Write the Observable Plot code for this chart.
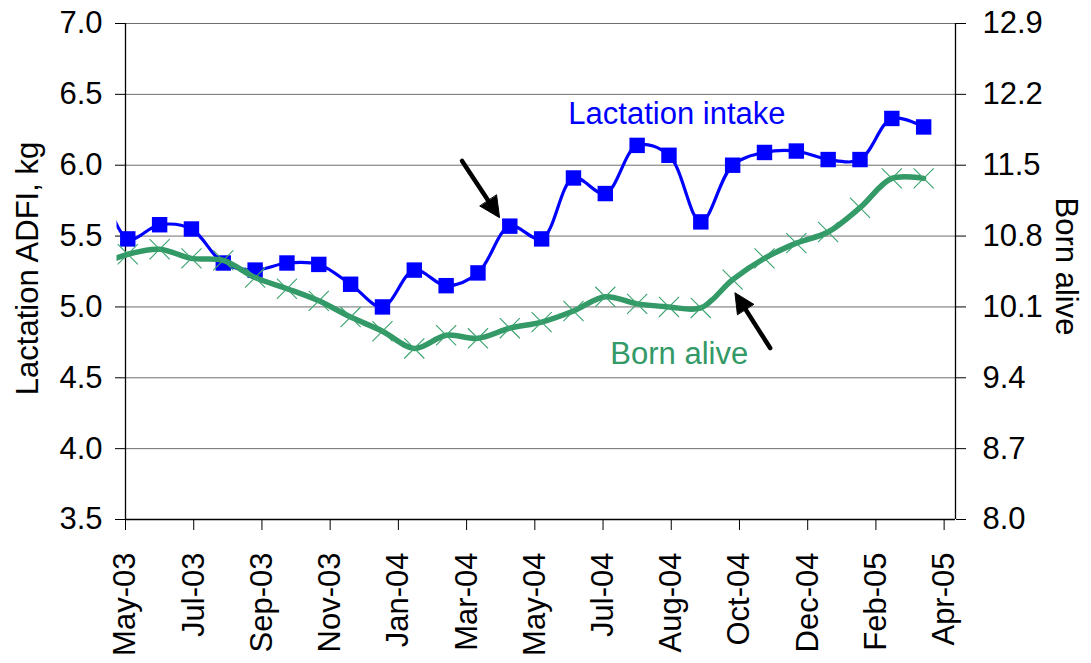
<!DOCTYPE html>
<html><head><meta charset="utf-8">
<script src="https://cdn.jsdelivr.net/npm/d3@7"></script>
<script src="https://cdn.jsdelivr.net/npm/@observablehq/plot@0.6"></script>
<style>body{margin:0;background:#fff}</style>
</head><body><div id="chart"></div>
<script>
// ---- data ----
const sampleDates = ["2003-05-10","2003-06-07","2003-07-05","2003-08-02","2003-08-30","2003-09-27","2003-10-25","2003-11-22","2003-12-20","2004-01-17","2004-02-14","2004-03-13","2004-04-10","2004-05-08","2004-06-05","2004-07-03","2004-07-31","2004-08-28","2004-09-25","2004-10-23","2004-11-20","2004-12-18","2005-01-15","2005-02-12","2005-03-12","2005-04-09"];
const lactationIntake = [5.48,5.58,5.55,5.31,5.26,5.31,5.30,5.16,5.00,5.26,5.15,5.24,5.57,5.48,5.91,5.80,6.14,6.07,5.60,6.00,6.09,6.10,6.04,6.04,6.33,6.27];
const bornAlive = [10.62,10.67,10.58,10.56,10.39,10.28,10.16,10.00,9.86,9.69,9.82,9.79,9.89,9.95,10.06,10.20,10.13,10.10,10.09,10.37,10.58,10.73,10.84,11.08,11.37,11.37];
// period just before the axis start (only its line segment shows)
const priorDate = "2003-04-12";
const priorIntake = 6.0;
const priorBornAlive = 10.5;
const xDomain = ["2003-05-08","2005-05-07"];
const xTicks = ["2003-05-08","2003-07-07","2003-09-05","2003-11-04","2004-01-03","2004-03-03","2004-05-02","2004-07-01","2004-08-30","2004-10-29","2004-12-28","2005-02-26","2005-04-27"];
const leftTicks = [3.5,4.0,4.5,5.0,5.5,6.0,6.5,7.0];
const rightMin = 8.0, rightStep = 0.7; // right axis: 8.0 .. 12.9
const arrows = [
  {x1:"2004-02-28", y1:6.03, x2:"2004-04-01", y2:5.63},
  {x1:"2004-11-25", y1:4.71, x2:"2004-10-25", y2:5.10}
];
const seriesLabels = [
  {text:"Lactation intake", date:"2004-09-04", y:6.36, color:"#0000ff"},
  {text:"Born alive", date:"2004-09-06", y:4.67, color:"#339966"}
];

// ---- build ----
const parse = d3.utcParse("%Y-%m-%d");
const toLeft = b => 3.5 + (b - rightMin) * 0.5 / rightStep;
const toRight = l => rightMin + (l - 3.5) * rightStep / 0.5;
const intake = sampleDates.map((s,i) => ({date: parse(s), v: lactationIntake[i]}));
const born = sampleDates.map((s,i) => ({date: parse(s), v: toLeft(bornAlive[i])}));
const intakeLine = [{date: parse(priorDate), v: priorIntake}, ...intake];
const bornLine = [{date: parse(priorDate), v: toLeft(priorBornAlive)}, ...born];
const arrowData = arrows.map(a => ({x1: parse(a.x1), y1: a.y1, x2: parse(a.x2), y2: a.y2}));
const labelData = seriesLabels.map(l => ({...l, date: parse(l.date)}));
const green = "#339966";
const FS = 31;

const chart = Plot.plot({
  width: 1091, height: 663,
  marginLeft: 125, marginRight: 136, marginTop: 23, marginBottom: 144,
  style: {fontFamily: "'Liberation Sans', Arial, sans-serif", fontSize: FS + "px", background: "#fff", color: "#000", overflow: "visible"},
  x: {type: "utc", domain: xDomain.map(parse)},
  y: {domain: [3.5, 7.0]},
  marks: [
    Plot.ruleY(leftTicks.slice(1), {stroke: "#6e6e6e", strokeWidth: 1}),
    Plot.ruleY([3.5], {stroke: "#000", strokeWidth: 1.3}),
    Plot.ruleX(xDomain.map(parse), {stroke: "#000", strokeWidth: 1.3}),
    Plot.axisY(leftTicks, {anchor: "left", tickFormat: d3.format(".1f"), tickSize: 10, tickPadding: 13, fontSize: FS, label: null}),
    Plot.axisY(leftTicks, {anchor: "right", tickFormat: d => toRight(d).toFixed(1), tickSize: 10, tickPadding: 17, fontSize: FS, label: null}),
    Plot.axisX(xTicks.map(parse), {tickFormat: d3.utcFormat("%b-%y"), tickRotate: -90, tickSize: 11, tickPadding: 22, fontSize: FS, label: null}),
    Plot.line(intakeLine, {x: "date", y: "v", stroke: "#0000ff", strokeWidth: 3.2, curve: "catmull-rom"}),
    Plot.dot(intake, {x: "date", y: "v", symbol: "square", r: 8.7, fill: "#0000ff", stroke: "none"}),
    Plot.line(bornLine, {x: "date", y: "v", stroke: green, strokeWidth: 5.5, curve: "catmull-rom"}),
    Plot.dot(born, {x: "date", y: "v", symbol: "times", r: 9.2, stroke: "#3aa36f", strokeWidth: 1.1}),
    Plot.arrow(arrowData, {x1: "x1", y1: "y1", x2: "x2", y2: "y2", stroke: "#000", strokeWidth: 4.5, headLength: 17, headAngle: 52}),
    Plot.text(labelData, {x: "date", y: "y", text: "text", fill: "color", fontSize: FS}),
    Plot.text(["Lactation ADFI, kg"], {frameAnchor: "left", textAnchor: "middle", rotate: -90, dx: -97, dy: -3, fontSize: FS, text: d => d}),
    Plot.text(["Born alive"], {frameAnchor: "right", textAnchor: "middle", rotate: 90, dx: 110, dy: -5, fontSize: FS, text: d => d})
  ]
});
document.getElementById("chart").appendChild(chart);

const svgNS = "http://www.w3.org/2000/svg";
// lines are cut a few pixels to the left of the value axis, as in the source chart
const defs = document.createElementNS(svgNS, "defs");
const cp = document.createElementNS(svgNS, "clipPath");
cp.setAttribute("id", "lineclip");
const r = document.createElementNS(svgNS, "rect");
r.setAttribute("x", 116); r.setAttribute("y", 0);
r.setAttribute("width", 1091 - 116); r.setAttribute("height", 663);
cp.appendChild(r); defs.appendChild(cp); chart.insertBefore(defs, chart.firstChild);
chart.querySelectorAll('g[aria-label="line"]').forEach(g => g.setAttribute("clip-path", "url(#lineclip)"));

// solid (filled) arrowheads, like the source annotation arrows
chart.querySelectorAll('g[aria-label="arrow"] path').forEach(p => {
  const n = (p.getAttribute("d").match(/-?\d*\.?\d+(e-?\d+)?/g) || []).map(Number);
  if (n.length < 10) return;
  const [x1, y1, x2, y2, ax, ay, tx, ty, bx, by] = n;
  const mx = (ax + bx) / 2, my = (ay + by) / 2;
  p.setAttribute("d", `M${x1},${y1}L${mx},${my}`);
  const tri = document.createElementNS(svgNS, "path");
  tri.setAttribute("d", `M${ax},${ay}L${tx},${ty}L${bx},${by}Z`);
  tri.setAttribute("fill", "#000");
  tri.setAttribute("stroke", "#000");
  tri.setAttribute("stroke-width", "1");
  tri.setAttribute("stroke-linejoin", "miter");
  p.parentNode.appendChild(tri);
});
</script></body></html>
